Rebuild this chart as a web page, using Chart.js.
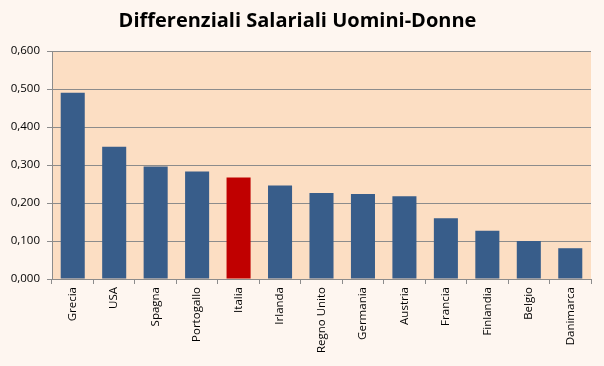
<!DOCTYPE html>
<html>
<head>
<meta charset="utf-8">
<script src="https://cdn.jsdelivr.net/npm/chart.js@4/dist/chart.umd.min.js"></script>
<style>
  html, body { margin: 0; padding: 0; background: #fef6f0; }
  #wrap { width: 604px; height: 366px; }
</style>
</head>
<body>
<div id="wrap"><canvas id="chart" width="604" height="366"></canvas></div>
<script>
// Paesi e differenziali
const countries = ['Grecia', 'USA', 'Spagna', 'Portogallo', 'Italia', 'Irlanda', 'Regno Unito',
  'Germania', 'Austria', 'Francia', 'Finlandia', 'Belgio', 'Danimarca'];
const gaps = [0.490, 0.348, 0.296, 0.283, 0.267, 0.246, 0.226, 0.224, 0.218, 0.160, 0.127, 0.100, 0.081];
const highlight = 'Italia';

const barBlue = '#385d8a';
const barRed = '#c00000';
const gridGray = '#8c8c8c';

// fill the plot area peach like the original
const plotBg = {
  id: 'plotBg',
  beforeDraw(chart) {
    const { ctx, chartArea: a } = chart;
    ctx.save();
    ctx.fillStyle = '#fcdec3';
    ctx.fillRect(a.left, a.top, a.right - a.left, a.bottom - a.top);
    ctx.restore();
  }
};

const tickFont = { family: 'Open Sans', size: 11.5 };

new Chart(document.getElementById('chart'), {
  type: 'bar',
  data: {
    labels: countries,
    datasets: [{
      data: gaps,
      backgroundColor: countries.map(c => c === highlight ? barRed : barBlue),
      borderWidth: 0,
      barPercentage: 0.58,
      categoryPercentage: 1
    }]
  },
  options: {
    responsive: false,
    animation: false,
    layout: { padding: { left: 4, right: 13, top: 0, bottom: 0 } },
    plugins: {
      legend: { display: false },
      tooltip: { enabled: false },
      title: {
        display: true,
        text: 'Differenziali Salariali Uomini-Donne',
        color: '#000',
        font: { family: 'Open Sans', size: 20, weight: 'bold' },
        padding: { top: 9, bottom: 18 }
      }
    },
    scales: {
      y: {
        min: 0,
        max: 0.6,
        ticks: {
          stepSize: 0.1,
          color: '#000',
          font: tickFont,
          padding: 7,
          callback: v => v.toFixed(3).replace('.', ',')
        },
        grid: { color: gridGray, tickLength: 5 },
        border: { color: gridGray },
        afterFit: s => { s.width = 48; }
      },
      x: {
        ticks: {
          color: '#000',
          font: tickFont,
          minRotation: 90,
          maxRotation: 90,
          padding: 3
        },
        grid: { color: gridGray, drawOnChartArea: false, tickLength: 5, offset: true },
        border: { color: gridGray },
        afterFit: s => { s.height = 87; }
      }
    }
  },
  plugins: [plotBg]
});
</script>
</body>
</html>
